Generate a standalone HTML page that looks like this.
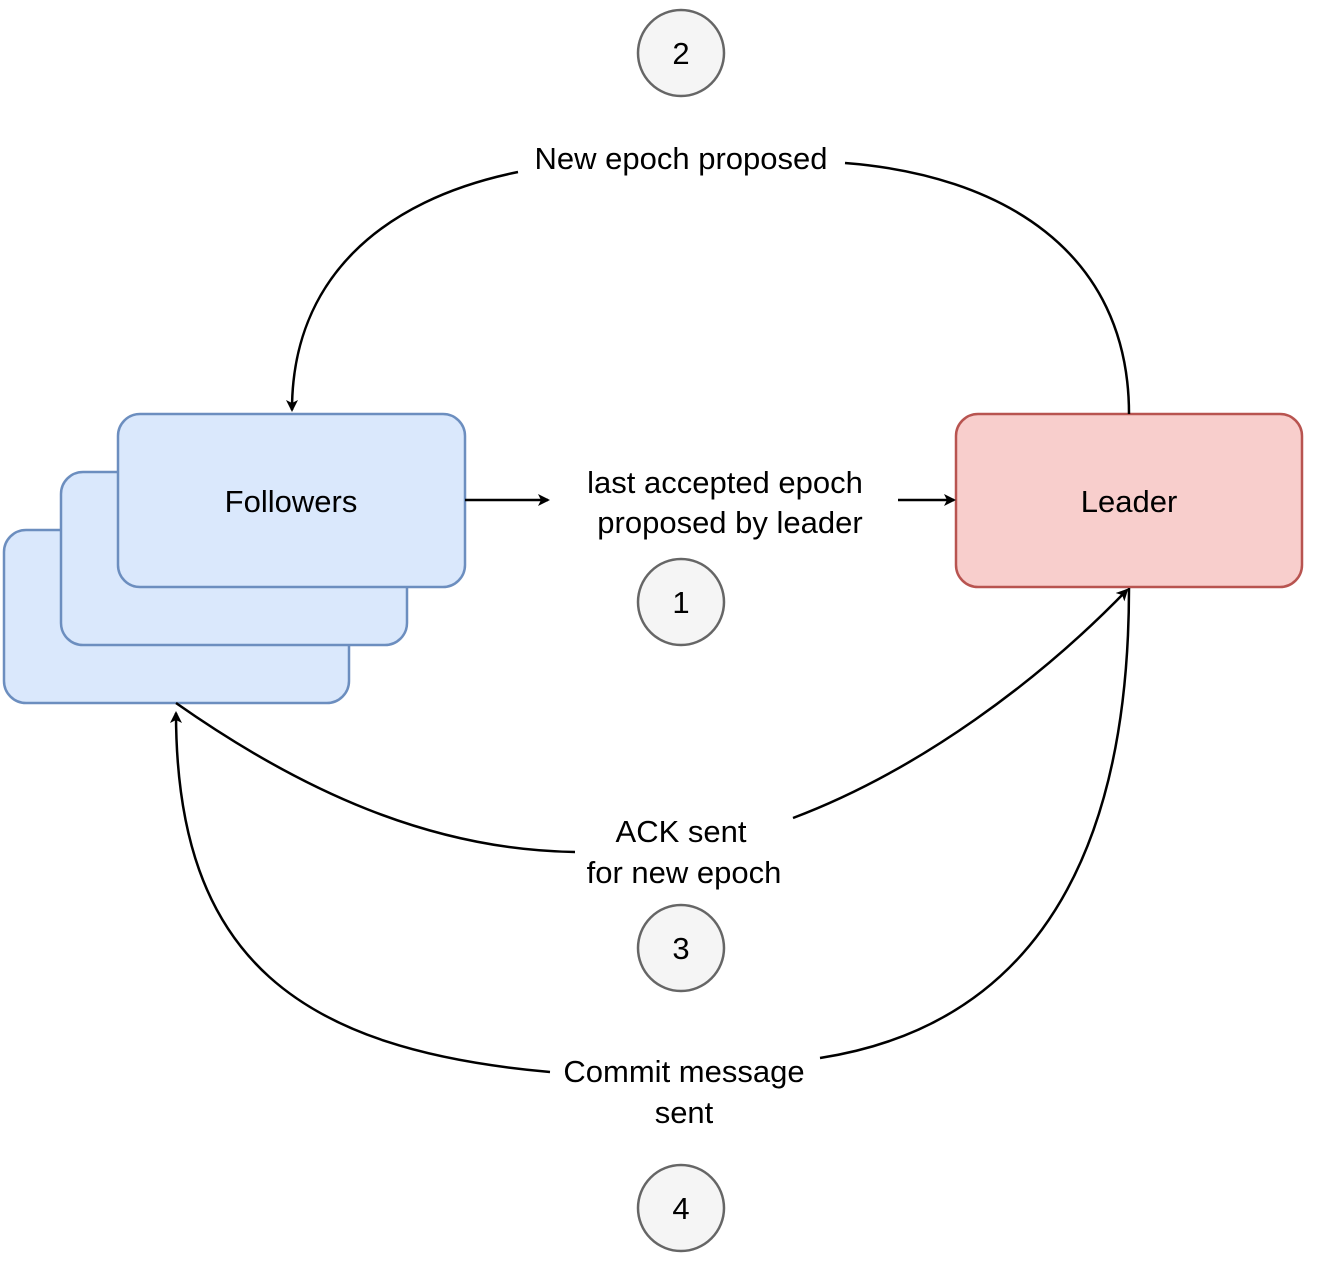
<!DOCTYPE html>
<html><head><meta charset="utf-8"><style>
html,body{margin:0;padding:0;background:#fff;}
svg{display:block;}
text{font-family:"Liberation Sans",Arial,sans-serif;font-size:31px;fill:#000;}
</style></head><body>
<svg width="1325" height="1272" viewBox="0 0 1325 1272" xmlns="http://www.w3.org/2000/svg">
<defs>
<marker id="ah" markerWidth="12" markerHeight="12" refX="10" refY="6" orient="auto" markerUnits="userSpaceOnUse" viewBox="0 0 12 12">
<path d="M0,0 L12,6 L0,12 L3,6 Z" fill="#000"/>
</marker>
</defs>
<!-- followers -->
<rect x="4" y="530" width="345" height="173" rx="22" fill="#dae8fc" stroke="#6c8ebf" stroke-width="2.5"/>
<rect x="61" y="472" width="346" height="173" rx="22" fill="#dae8fc" stroke="#6c8ebf" stroke-width="2.5"/>
<rect x="118" y="414" width="347" height="173" rx="22" fill="#dae8fc" stroke="#6c8ebf" stroke-width="2.5"/>
<text x="291" y="512" text-anchor="middle">Followers</text>
<!-- leader -->
<rect x="956" y="414" width="346" height="173" rx="22" fill="#f8cecc" stroke="#b85450" stroke-width="2.5"/>
<text x="1129" y="512" text-anchor="middle">Leader</text>
<!-- circles -->
<g fill="#f5f5f5" stroke="#666" stroke-width="2.5">
<circle cx="681" cy="53" r="43"/>
<circle cx="681" cy="602" r="43"/>
<circle cx="681" cy="948" r="43"/>
<circle cx="681" cy="1208" r="43"/>
</g>
<g text-anchor="middle">
<text x="681" y="64">2</text>
<text x="681" y="613">1</text>
<text x="681" y="959">3</text>
<text x="681" y="1219">4</text>
</g>
<g fill="none" stroke="#000" stroke-width="2.5">
<!-- step 1 -->
<path d="M465,500 L548,500" marker-end="url(#ah)"/>
<path d="M898,500 L954,500" marker-end="url(#ah)"/>
<!-- step 2 -->
<path d="M1129,414 C1129,250 1000,175 845,163"/>
<path d="M518,172 C380,200 292,280 292,410" marker-end="url(#ah)"/>
<!-- step 3 ACK -->
<path d="M176,703 C300,790 430,850 575,852"/>
<path d="M793,818 C920,770 1040,680 1127,590" marker-end="url(#ah)"/>
<!-- step 4 commit -->
<path d="M1129,588 C1129,900 1000,1030 820,1058"/>
<path d="M550,1072 C300,1050 176,960 176,713" marker-end="url(#ah)"/>
</g>
<g text-anchor="middle">
<text x="681" y="169">New epoch proposed</text>
<text x="725" y="493">last accepted epoch</text>
<text x="730" y="533">proposed by leader</text>
<text x="681" y="842">ACK sent</text>
<text x="684" y="883">for new epoch</text>
<text x="684" y="1082">Commit message</text>
<text x="684" y="1123">sent</text>
</g>
</svg>
</body></html>
